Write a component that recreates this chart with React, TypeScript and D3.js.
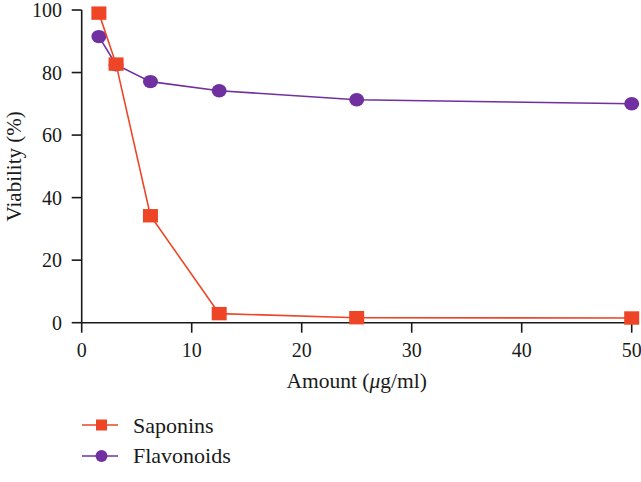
import React from "react";
import * as d3 from "d3";

const amounts = [1.5625, 3.125, 6.25, 12.5, 25, 50];
const saponins = [99, 82.7, 34.2, 2.9, 1.6, 1.5];
const flavonoids = [91.5, 82.5, 77.1, 74.2, 71.3, 70];
const xTicks = [0, 10, 20, 30, 40, 50];
const yTicks = [0, 20, 40, 60, 80, 100];
const seriesNames = ["Saponins", "Flavonoids"];

const RED = "#EE4526";
const PURPLE = "#7030A0";
const FONT = '"Liberation Serif", "DejaVu Serif", serif';

export default function App() {
  const W = 641, H = 482;
  const x = d3.scaleLinear().domain([0, 50]).range([81.7, 631.7]);
  const y = d3.scaleLinear().domain([0, 100]).range([322.7, 10]);
  const line = d3.line<[number, number]>().x(d => x(d[0])).y(d => y(d[1]));
  const sapPts = amounts.map((a, i) => [a, saponins[i]] as [number, number]);
  const flaPts = amounts.map((a, i) => [a, flavonoids[i]] as [number, number]);
  const x0 = x(0), y0 = y(0);
  const txt = { fontFamily: FONT };

  return (
    <svg width={W} height={H} style={{ position: "absolute", left: 0, top: 0, background: "#fff", fontFamily: FONT }}>
      {/* axes */}
      <line x1={x0} x2={x0} y1={y(100)} y2={y0} stroke="#1a1a1a" strokeWidth={1.6} />
      <line x1={x0} x2={x(50)} y1={y0} y2={y0} stroke="#1a1a1a" strokeWidth={1.6} />
      {yTicks.map(t => (
        <g key={"y" + t}>
          <line x1={x0 - 10} x2={x0} y1={y(t)} y2={y(t)} stroke="#1a1a1a" strokeWidth={1.6} />
          <text style={txt} x={62} y={y(t)} dy="0.35em" textAnchor="end" fontSize={20} fill="#1a1a1a">{t}</text>
        </g>
      ))}
      {xTicks.map(t => (
        <g key={"x" + t}>
          <line x1={x(t)} x2={x(t)} y1={y0} y2={y0 + 10} stroke="#1a1a1a" strokeWidth={1.6} />
          <text style={txt} x={x(t)} y={357} textAnchor="middle" fontSize={20} fill="#1a1a1a">{t}</text>
        </g>
      ))}
      <text style={txt} x={(x0 + x(50)) / 2} y={388} textAnchor="middle" fontSize={21.5} fill="#1a1a1a">
        Amount (<tspan fontStyle="italic">μ</tspan>g/ml)
      </text>
      <text style={txt} transform={`translate(21,${(y(100) + y0) / 2}) rotate(-90)`} textAnchor="middle" fontSize={21} fill="#1a1a1a">
        Viability (%)
      </text>

      {/* flavonoids */}
      <path d={line(flaPts) || ""} fill="none" stroke={PURPLE} strokeWidth={1.6} />
      {flaPts.map((p, i) => (
        <ellipse key={"f" + i} cx={x(p[0])} cy={y(p[1])} rx={7.5} ry={6.7} fill={PURPLE} />
      ))}
      {/* saponins */}
      <path d={line(sapPts) || ""} fill="none" stroke={RED} strokeWidth={1.6} />
      {sapPts.map((p, i) => (
        <rect key={"s" + i} x={x(p[0]) - 7.5} y={y(p[1]) - 6.7} width={15} height={13.4} fill={RED} />
      ))}

      {/* legend */}
      <g>
        <line x1={82} x2={118} y1={425} y2={425} stroke={RED} strokeWidth={1.6} />
        <rect x={96} y={419.5} width={11} height={11} fill={RED} />
        <text style={txt} x={133} y={433} fontSize={22} fill="#1a1a1a">{seriesNames[0]}</text>
        <line x1={82} x2={118} y1={456} y2={456} stroke={PURPLE} strokeWidth={1.6} />
        <circle cx={101.5} cy={456} r={6} fill={PURPLE} />
        <text style={txt} x={133} y={463} fontSize={22} fill="#1a1a1a">{seriesNames[1]}</text>
      </g>
    </svg>
  );
}
